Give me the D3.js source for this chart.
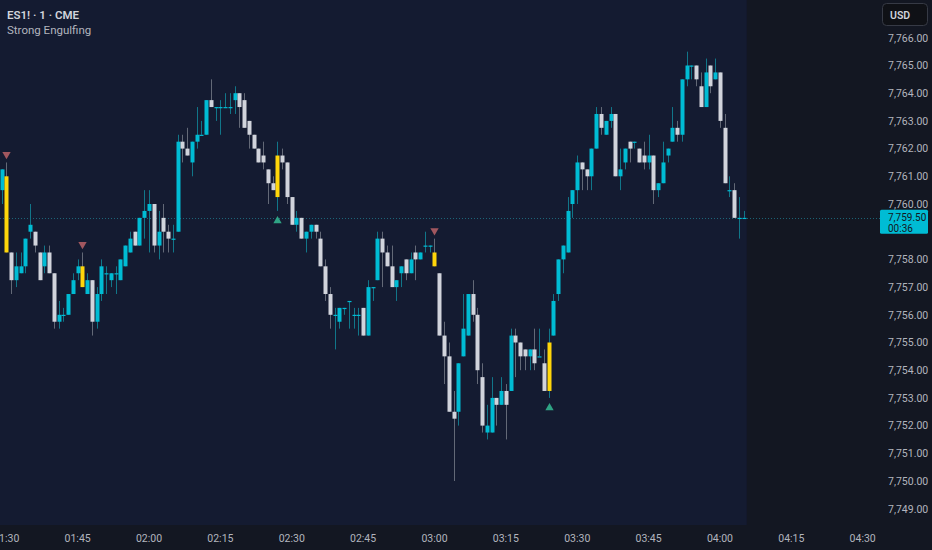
<!DOCTYPE html>
<html>
<head>
<meta charset="utf-8">
<script src="https://cdn.jsdelivr.net/npm/d3@7"></script>
<style>
  body { margin: 0; background: #131722; }
  svg text { font-family: Roboto, "Liberation Sans", sans-serif; }
</style>
</head>
<body>
<svg id="chart" width="932" height="550"></svg>
<script>
// first candle is 01:29, one candle per minute
var startMinute = 89;

var opens = [
  7760.5, 7761, 7758.25, 7757.25, 7757.5, 7757.75, 7759, 7759, 7758.25, 7757.75,
  7758.25, 7757.5, 7755.75, 7756, 7756, 7756.75, 7757.5, 7757.75, 7756.75, 7757.25,
  7755.75, 7756.75, 7757.5, 7757.25, 7757.5, 7757.25, 7757.75, 7758.25, 7759, 7758.5,
  7759.5, 7759.75, 7760, 7758.5, 7759.5, 7759, 7758.75, 7759, 7762.25, 7762,
  7761.5, 7762.25, 7762.5, 7762.5, 7763.75, 7763.5, 7763.5, 7763.5, 7763.5, 7763.75,
  7764, 7763.75, 7763, 7762.5, 7762, 7761.75, 7761.25, 7760.75, 7760.25, 7761.75,
  7761.5, 7760.25, 7759.25, 7759.5, 7758.75, 7759, 7759.25, 7758.75, 7757.75, 7756.75,
  7756, 7755.75, 7756.25, 7756.5, 7756, 7756, 7756.25, 7755.25, 7757, 7757.25,
  7758.75, 7758.25, 7757.75, 7757, 7757.5, 7758, 7757.5, 7758.25, 7758, 7758.5,
  7758.5, 7758.25, 7757.5, 7755.25, 7754.5, 7752.5, 7752.5, 7754.5, 7755.25, 7756.75,
  7756, 7753.75, 7751.75, 7751.75, 7753, 7752.75, 7753.25, 7753.25, 7755.25, 7755,
  7754.75, 7754.5, 7754.75, 7754.5, 7754.25, 7753.25, 7755.25, 7756.75, 7758, 7758.25,
  7760, 7760.5, 7761.5, 7761.25, 7761, 7762, 7763.25, 7762.5, 7763, 7763.25,
  7761, 7761.5, 7762.25, 7762.25, 7762, 7761.75, 7761.5, 7761.75, 7760.5, 7760.75,
  7761.75, 7762.25, 7762.75, 7762.5, 7764.5, 7765, 7765, 7764.25, 7763.5, 7765,
  7764.5, 7764.75, 7762.75, 7760.5, 7760.5, 7759.5, 7759.5
];
var highs = [
  7761.25, 7761.5, 7758.25, 7758.25, 7758.25, 7758.75, 7760, 7759, 7758.25, 7758.5,
  7758.5, 7757.5, 7756.5, 7756.25, 7756.75, 7757.5, 7758, 7758.25, 7757.5, 7757.25,
  7757, 7758, 7757.75, 7757.5, 7757.75, 7758, 7758.5, 7759, 7759, 7759.5,
  7760.5, 7760.5, 7760, 7759.75, 7760, 7759.25, 7759.25, 7762.5, 7762.5, 7762.75,
  7762.25, 7763.5, 7763, 7763.75, 7764.5, 7763.5, 7763.75, 7764, 7764, 7764.25,
  7764, 7764, 7763, 7762.5, 7762, 7762.25, 7761.25, 7761, 7762.25, 7762,
  7761.5, 7760.25, 7759.75, 7759.5, 7759, 7759.25, 7759.25, 7759, 7758, 7757,
  7756.25, 7756.25, 7756.25, 7756.5, 7756.25, 7756.25, 7756.25, 7757.25, 7757, 7759,
  7759, 7758.5, 7758.5, 7757.25, 7757.75, 7758, 7758.25, 7758.5, 7758.25, 7759,
  7758.5, 7758.75, 7757.5, 7755.75, 7755, 7753.25, 7754.25, 7756.75, 7756.75, 7757.25,
  7756.25, 7754.25, 7752.75, 7753.75, 7753, 7753.75, 7753.5, 7755.5, 7755.5, 7755,
  7754.75, 7754.75, 7755.5, 7755.5, 7754.75, 7755.5, 7756.75, 7758, 7758.5, 7760.25,
  7760.5, 7761.75, 7761.5, 7761.25, 7762, 7763.5, 7763.5, 7763, 7763.5, 7763.25,
  7762, 7762, 7762.25, 7762.25, 7762, 7762.25, 7762.5, 7761.75, 7760.75, 7762.25,
  7762, 7763.5, 7763, 7764.5, 7765.5, 7765, 7765, 7764.75, 7765.25, 7765,
  7765.25, 7764.75, 7763.25, 7761, 7760.75, 7760.25, 7759.75
];
var lows = [
  7760, 7758.25, 7756.75, 7757, 7757.5, 7757.5, 7758.75, 7758.25, 7757.25, 7757.5,
  7757.5, 7755.5, 7755.5, 7755.75, 7756, 7756.75, 7757.25, 7757, 7756.75, 7755.25,
  7755.5, 7756.5, 7756.75, 7757, 7756.75, 7757.25, 7757.75, 7758.25, 7758.5, 7758.5,
  7758.75, 7758.25, 7758.25, 7758, 7758.25, 7758.25, 7758.25, 7759, 7761.5, 7761.75,
  7761, 7762, 7762.5, 7762.5, 7763.5, 7763, 7762.5, 7763.5, 7763.25, 7763.25,
  7762.75, 7762.75, 7762, 7762, 7761.5, 7761.25, 7760, 7760.5, 7759.75, 7761.25,
  7760, 7759.25, 7759, 7758.75, 7758.25, 7758.75, 7758.75, 7757.75, 7756.5, 7755.5,
  7754.75, 7755.5, 7756, 7755.5, 7755.5, 7755.25, 7755.25, 7755.25, 7756.5, 7757.25,
  7757, 7757.75, 7757, 7756.5, 7757, 7757.25, 7757.5, 7757.25, 7758, 7758.25,
  7758.25, 7757.75, 7755.25, 7753.5, 7752.5, 7750, 7752, 7754.5, 7755.25, 7755.75,
  7753.5, 7751.75, 7751.5, 7751.75, 7752, 7752.75, 7751.5, 7753.25, 7753.75, 7754,
  7754, 7754, 7754, 7754.5, 7753.25, 7753, 7755.25, 7756.5, 7757.5, 7758.25,
  7759.5, 7760, 7760.5, 7760.5, 7760.5, 7762, 7762.5, 7762.5, 7762.75, 7761,
  7760.5, 7761.25, 7761.5, 7762, 7761.5, 7761.25, 7761.25, 7760, 7760.25, 7760.75,
  7761.5, 7762.25, 7762.25, 7762.25, 7764.25, 7764.5, 7764.25, 7763.5, 7763.5, 7764,
  7764.5, 7762.75, 7760.75, 7760.25, 7759.5, 7758.75, 7759.5
];
var closes = [
  7761.25, 7758.25, 7757.25, 7757.75, 7757.75, 7758.75, 7759.25, 7758.5, 7757.25, 7758.25,
  7757.5, 7755.75, 7756, 7756, 7756.75, 7757.25, 7757.75, 7757, 7757.25, 7755.75,
  7756.75, 7757.75, 7757.5, 7757.5, 7757.5, 7758, 7758.5, 7758.75, 7758.5, 7759.5,
  7759.75, 7760, 7758.5, 7759, 7759, 7758.75, 7758.75, 7762.25, 7762, 7761.75,
  7762.25, 7762.5, 7762.5, 7763.75, 7763.5, 7763.5, 7763.5, 7763.5, 7763.5, 7764,
  7763.5, 7762.75, 7762.5, 7762, 7761.5, 7761.5, 7760.75, 7760.5, 7761.75, 7761.5,
  7760.25, 7759.25, 7759.5, 7758.75, 7759, 7759.25, 7759, 7757.75, 7756.75, 7756,
  7756, 7756.25, 7756.25, 7756.5, 7756, 7756, 7755.25, 7757, 7757, 7758.75,
  7758.25, 7757.75, 7757, 7757.25, 7757.75, 7757.5, 7758, 7758, 7758.25, 7758.5,
  7758.5, 7757.75, 7755.25, 7754.5, 7752.5, 7752.25, 7754.25, 7755.5, 7756.75, 7756,
  7754, 7752, 7752, 7753, 7752.75, 7753.25, 7752.75, 7755.25, 7755, 7754.5,
  7754.5, 7754.75, 7754.25, 7754.5, 7753.25, 7755, 7756.5, 7758, 7758.5, 7759.75,
  7760.5, 7761.5, 7761.25, 7761, 7762, 7763.25, 7762.75, 7763, 7763.25, 7761,
  7761.25, 7762, 7762, 7762.25, 7761.5, 7761.5, 7761.75, 7760.5, 7760.75, 7761.5,
  7762, 7762.75, 7762.5, 7764.5, 7765, 7765, 7764.5, 7763.5, 7764.75, 7764.25,
  7764.75, 7763, 7760.75, 7760.5, 7759.5, 7759.5, 7759.5
];

// strong engulfing signals (candle index)
var bearSignals = [1, 17, 91];
var bullSignals = [58, 115];

var priceTicks = [7749, 7750, 7751, 7752, 7753, 7754, 7755, 7756, 7757, 7758,
                  7760, 7761, 7762, 7763, 7764, 7765, 7766];
var timeTicks = ["01:30", "01:45", "02:00", "02:15", "02:30", "02:45", "03:00",
                 "03:15", "03:30", "03:45", "04:00", "04:15", "04:30"];
var lastPrice = 7759.5;
var countdown = "00:36";

var upColor = "#00bcd4", downColor = "#d1d4dc", signalColor = "#ffd60a";

var svg = d3.select("#chart");

var x = d3.scaleLinear().domain([89, 270]).range([1.5, 862.7]);
var y = d3.scaleLinear().domain([7749, 7766]).range([508.7, 37.8]);

var candles = opens.map(function(o, i) {
  return {t: startMinute + i, o: o, h: highs[i], l: lows[i], c: closes[i],
          sig: bearSignals.indexOf(i) >= 0 ? "bear" : (bullSignals.indexOf(i) >= 0 ? "bull" : null)};
});
var lastT = startMinute + candles.length - 1;

// session background
svg.append("rect")
  .attr("x", 0).attr("y", 0)
  .attr("width", x(lastT + 0.62))
  .attr("height", 525)
  .attr("fill", "#141b31");

// last price line
svg.append("line")
  .attr("x1", 0).attr("x2", 880)
  .attr("y1", Math.round(y(lastPrice)) + 0.5).attr("y2", Math.round(y(lastPrice)) + 0.5)
  .attr("stroke", "#1f8497").attr("stroke-opacity", 0.7)
  .attr("stroke-dasharray", "1,2");

var plot = svg.append("g");

plot.selectAll(".wick")
  .data(candles)
  .enter().append("line")
  .attr("class", "wick")
  .attr("x1", function(d) { return Math.round(x(d.t)) + 0.5; })
  .attr("x2", function(d) { return Math.round(x(d.t)) + 0.5; })
  .attr("y1", function(d) { return y(d.h); })
  .attr("y2", function(d) { return y(d.l); })
  .attr("stroke", function(d) { return d.c >= d.o ? "#117689" : "#636977"; })
  .attr("stroke-width", 1);

plot.selectAll(".body")
  .data(candles)
  .enter().append("rect")
  .attr("class", "body")
  .attr("x", function(d) { return Math.round(x(d.t)) - 1.5; })
  .attr("width", 4)
  .attr("y", function(d) { return y(Math.max(d.o, d.c)); })
  .attr("height", function(d) { return Math.max(1.2, Math.abs(y(d.o) - y(d.c))); })
  .attr("fill", function(d) {
    if (d.sig) return signalColor;
    return d.c >= d.o ? upColor : downColor;
  });

// signal triangles
var tri = d3.symbol().type(d3.symbolTriangle).size(30);
plot.selectAll(".sig")
  .data(candles.filter(function(d) { return d.sig; }))
  .enter().append("path")
  .attr("class", "sig")
  .attr("d", tri)
  .attr("fill", function(d) { return d.sig == "bear" ? "#a1575f" : "#2fa384"; })
  .attr("transform", function(d) {
    if (d.sig == "bear") return "translate(" + (Math.round(x(d.t)) + 0.5) + "," + (y(d.h) - 8) + ") rotate(180)";
    return "translate(" + (Math.round(x(d.t)) + 0.5) + "," + (y(d.l) + 10) + ")";
  });

// price axis labels
svg.selectAll(".ptick")
  .data(priceTicks)
  .enter().append("text")
  .attr("class", "ptick")
  .attr("x", 888)
  .attr("y", function(d) { return y(d) + 3.8; })
  .attr("font-size", "10.5px")
  .attr("fill", "#b2b5be")
  .text(function(d) { return d3.format(",.2f")(d); });

// time axis labels
svg.selectAll(".ttick")
  .data(timeTicks)
  .enter().append("text")
  .attr("class", "ttick")
  .attr("x", function(d) { var p = d.split(":"); return x(+p[0] * 60 + +p[1]); })
  .attr("y", 541.5)
  .attr("text-anchor", "middle")
  .attr("font-size", "10.5px")
  .attr("fill", "#b2b5be")
  .text(function(d) { return d; });

// last price tag
var yl = y(lastPrice);
svg.append("rect")
  .attr("x", 880).attr("y", yl - 8)
  .attr("width", 48).attr("height", 24)
  .attr("rx", 1.5)
  .attr("fill", "#00bcd4");
svg.append("text")
  .attr("x", 888).attr("y", yl + 3.2)
  .attr("font-size", "10px").attr("fill", "#131722")
  .text(d3.format(",.2f")(lastPrice));
svg.append("text")
  .attr("x", 888).attr("y", yl + 14)
  .attr("font-size", "10px").attr("fill", "#131722")
  .text(countdown);

// currency box
svg.append("rect")
  .attr("x", 882.5).attr("y", 3.5)
  .attr("width", 45).attr("height", 22)
  .attr("rx", 4)
  .attr("fill", "#0f1116")
  .attr("stroke", "#363a45");
svg.append("text")
  .attr("x", 890).attr("y", 18.5)
  .attr("font-size", "10.5px").attr("font-weight", 600)
  .attr("fill", "#d1d4dc")
  .text("USD");

// legend
svg.append("text")
  .attr("x", 7).attr("y", 19)
  .attr("font-size", "11.5px").attr("font-weight", 600)
  .attr("fill", "#d1d4dc")
  .text("ES1! · 1 · CME");
svg.append("text")
  .attr("x", 7).attr("y", 33.5)
  .attr("font-size", "11.5px")
  .attr("fill", "#b2b5be")
  .text("Strong Engulfing");
</script>
</body>
</html>
